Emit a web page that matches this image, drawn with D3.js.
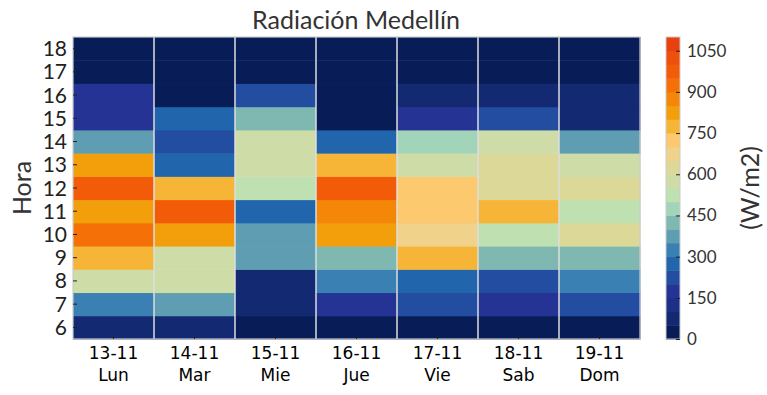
<!DOCTYPE html>
<html>
<head>
<meta charset="utf-8">
<script src="https://cdn.jsdelivr.net/npm/d3@7"></script>
<style>
  body { margin: 0; background: #fff; }
  text { font-family: Lato, "Open Sans", sans-serif; }
</style>
</head>
<body>
<svg id="chart" width="767" height="395"></svg>
<script>
// hours shown on the y axis (bottom to top)
var hours = [6, 7, 8, 9, 10, 11, 12, 13, 14, 15, 16, 17, 18];
var fechas = ['13-11', '14-11', '15-11', '16-11', '17-11', '18-11', '19-11'];
var dias = ['Lun', 'Mar', 'Mie', 'Jue', 'Vie', 'Sab', 'Dom'];

// radiation W/m2 per day, hour 6 -> 18
var lun = [75, 325, 575, 775, 925, 825, 975, 825, 375, 175, 175, 25, 25];
var mar = [75, 375, 575, 575, 825, 975, 775, 275, 225, 275, 25, 25, 25];
var mie = [25, 75, 75, 375, 375, 275, 525, 575, 575, 425, 225, 25, 25];
var jue = [25, 175, 325, 425, 825, 875, 975, 775, 275, 25, 25, 25, 25];
var vie = [25, 225, 275, 775, 675, 725, 725, 575, 475, 175, 75, 25, 25];
var sab = [25, 175, 225, 425, 525, 775, 625, 625, 575, 225, 75, 25, 25];
var dom = [25, 225, 325, 425, 625, 525, 625, 575, 375, 75, 75, 25, 25];
var series = [lun, mar, mie, jue, vie, sab, dom];

var cbTicks = [0, 150, 300, 450, 600, 750, 900, 1050];

var palette = ['#081d58', '#132a73', '#1d2f86', '#253494', '#234da0', '#2166ac',
  '#3a80b2', '#5f9eb2', '#7fb7b1', '#a2d4b9', '#bfe0b0', '#cedca8',
  '#dcd898', '#f0d28a', '#fdc96e', '#f6b537', '#f29f0b', '#f48608',
  '#f57006', '#f25c08', '#ee4f0d', '#e8400f'];

var svg = d3.select('#chart');
var m = {left: 73, top: 37, right: 640, bottom: 339};

var x = d3.scaleBand().domain(d3.range(7)).range([m.left, m.right]);
var y = d3.scaleBand().domain(hours.slice().reverse()).range([m.top, m.bottom]);
var color = d3.scaleQuantize().domain([0, 1100]).range(palette);

var cells = [];
series.forEach(function(vals, i) {
  vals.forEach(function(v, j) {
    cells.push({day: i, hour: hours[j], value: v});
  });
});

svg.append('g').selectAll('rect')
  .data(cells)
  .enter().append('rect')
  .attr('x', function(d) { return x(d.day); })
  .attr('y', function(d) { return y(d.hour); })
  .attr('width', x.bandwidth() + 0.5)
  .attr('height', y.bandwidth() + 0.5)
  .attr('fill', function(d) { return color(d.value); });

// light lines between days
svg.append('g').selectAll('line')
  .data(d3.range(1, 7))
  .enter().append('line')
  .attr('x1', function(d) { return x(d); })
  .attr('x2', function(d) { return x(d); })
  .attr('y1', m.top).attr('y2', m.bottom)
  .attr('stroke', '#dedede').attr('stroke-width', 1.5);

svg.append('rect')
  .attr('x', m.left).attr('y', m.top)
  .attr('width', m.right - m.left).attr('height', m.bottom - m.top)
  .attr('fill', 'none').attr('stroke', '#cccccc').attr('stroke-width', 1.2);

// y axis
var yAxis = svg.append('g')
  .attr('transform', 'translate(' + m.left + ',0)')
  .call(d3.axisRight(y).tickSize(4).tickPadding(-30));
yAxis.select('.domain').remove();
yAxis.selectAll('line').attr('stroke', '#222');
yAxis.selectAll('text')
  .attr('text-anchor', 'end')
  .attr('x', -6)
  .attr('dy', '0.36em')
  .style('font-size', '21px')
  .attr('fill', '#222');

// x axis ticks (inside, at the bottom)
svg.append('g').selectAll('line')
  .data(d3.range(7))
  .enter().append('line')
  .attr('x1', function(d) { return x(d) + x.bandwidth() / 2; })
  .attr('x2', function(d) { return x(d) + x.bandwidth() / 2; })
  .attr('y1', m.bottom).attr('y2', m.bottom - 4)
  .attr('stroke', '#222');

var xl = svg.append('g').selectAll('text')
  .data(d3.range(7))
  .enter().append('text')
  .attr('x', function(d) { return x(d) + x.bandwidth() / 2; })
  .attr('text-anchor', 'middle')
  .style('font-family', '"DejaVu Sans", sans-serif')
  .style('font-size', '17px')
  .attr('fill', '#000');
xl.append('tspan')
  .attr('x', function(d) { return x(d) + x.bandwidth() / 2; })
  .attr('y', 359)
  .text(function(d) { return fechas[d]; });
xl.append('tspan')
  .attr('x', function(d) { return x(d) + x.bandwidth() / 2; })
  .attr('y', 381)
  .text(function(d) { return dias[d]; });

svg.append('text')
  .attr('x', 356).attr('y', 29)
  .attr('text-anchor', 'middle')
  .style('font-size', '25px')
  .attr('fill', '#333')
  .text('Radiación Medellín');

svg.append('text')
  .attr('transform', 'translate(31,' + ((m.top + m.bottom) / 2) + ') rotate(-90)')
  .attr('text-anchor', 'middle')
  .style('font-size', '25px')
  .attr('fill', '#333')
  .text('Hora');

// colorbar
var cb = {x: 666, w: 14};
var cy = d3.scaleLinear().domain([0, 1100]).range([m.bottom, m.top]);
svg.append('g').selectAll('rect')
  .data(palette)
  .enter().append('rect')
  .attr('x', cb.x)
  .attr('y', function(d, i) { return cy((i + 1) * 50); })
  .attr('width', cb.w)
  .attr('height', function(d, i) { return cy(i * 50) - cy((i + 1) * 50) + 0.5; })
  .attr('fill', function(d) { return d; });
svg.append('rect')
  .attr('x', cb.x).attr('y', m.top)
  .attr('width', cb.w).attr('height', m.bottom - m.top)
  .attr('fill', 'none').attr('stroke', '#cccccc').attr('stroke-width', 1);

var cAxis = svg.append('g')
  .attr('transform', 'translate(' + (cb.x + cb.w) + ',0)')
  .call(d3.axisLeft(cy).tickValues(cbTicks).tickSize(4).tickFormat(d3.format('d')));
cAxis.select('.domain').remove();
cAxis.selectAll('line').attr('stroke', '#222');
cAxis.selectAll('text')
  .attr('text-anchor', 'start')
  .attr('x', 7)
  .style('font-size', '17px')
  .attr('fill', '#333');

svg.append('text')
  .attr('transform', 'translate(750,' + ((m.top + m.bottom) / 2) + ') rotate(-90)')
  .attr('text-anchor', 'middle')
  .attr('dy', '0.35em')
  .style('font-size', '25px')
  .attr('fill', '#333')
  .text('(W/m2)');
</script>
</body>
</html>
